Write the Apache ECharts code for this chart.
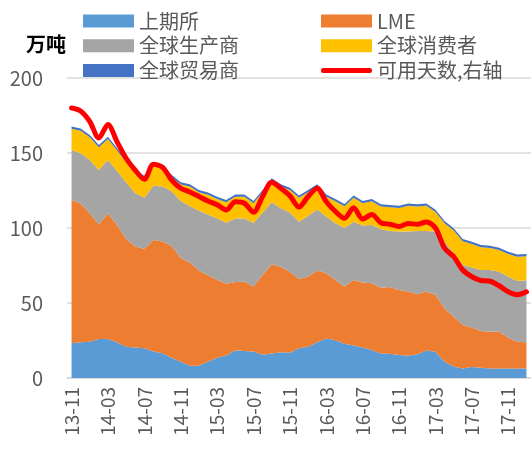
<!DOCTYPE html>
<html>
<head>
<meta charset="utf-8">
<script src="https://cdn.jsdelivr.net/npm/echarts@6/dist/echarts.min.js"></script>
<style>
  html, body { margin: 0; padding: 0; background: #fff; }
  #chart { width: 531px; height: 454px; }
</style>
</head>
<body>
<div id="chart"></div>
<script>
// 月份（13-11 至 18-01）
let months = ['13-11', '13-12', '14-01', '14-02', '14-03', '14-04', '14-05', '14-06', '14-07', '14-08',
    '14-09', '14-10', '14-11', '14-12', '15-01', '15-02', '15-03', '15-04', '15-05', '15-06',
    '15-07', '15-08', '15-09', '15-10', '15-11', '15-12', '16-01', '16-02', '16-03', '16-04',
    '16-05', '16-06', '16-07', '16-08', '16-09', '16-10', '16-11', '16-12', '17-01', '17-02',
    '17-03', '17-04', '17-05', '17-06', '17-07', '17-08', '17-09', '17-10', '17-11', '17-12', '18-01'];

// 各库存（万吨）
let shfe = [23.1, 23.8, 24.2, 26, 26, 23.8, 20.9, 20.4, 19.8, 17.6,
    16.5, 13.5, 10.9, 8.2, 8.2, 11, 13.5, 15, 18.5, 18,
    17.6, 15.5, 16.4, 17.1, 16.9, 19.8, 20.9, 23.8, 26.4, 25.1,
    22.8, 21.6, 20.4, 18.7, 16.4, 16.2, 15.3, 14.9, 15.8, 18.4,
    17.5, 10.9, 7.6, 6.4, 7.3, 6.9, 6.4, 6.4, 6.4, 6.4, 6.4];
let lme = [95.6, 92.6, 85.6, 76.4, 83.8, 78.2, 71.8, 67.2, 66.2, 74.4,
    74.5, 74.5, 69.1, 68.8, 63.3, 57.5, 52, 47.8, 45.5, 46.2,
    43.4, 53.2, 59.4, 57.1, 54, 46.2, 46.7, 47.8, 43.4, 40.2,
    38.2, 43.7, 43.2, 44.4, 43.8, 44.5, 43.4, 42.7, 40, 39.2,
    37.8, 35.5, 33.3, 28.9, 26.3, 24.4, 24.5, 24.5, 20.5, 17.8, 17.4];
let producer = [33.3, 33.4, 35.5, 36.3, 35.5, 36, 37.8, 35.5, 34.2, 36.2,
    36.6, 36.5, 38, 37.5, 40, 40.5, 41, 40.7, 42.4, 42.2,
    42.3, 41.7, 41.3, 38.9, 39.5, 38.2, 40.6, 40.8, 37.8, 37.8,
    39, 38.9, 38, 38.9, 38.9, 37.3, 38.9, 40, 42.2, 40.4,
    42.3, 44.5, 42.2, 40, 40, 40.7, 41.1, 40, 40.7, 40.5, 41.3];
let consumer = [14.1, 15.1, 15.2, 15.1, 14.1, 13.6, 13.3, 14.1, 13.2, 13.4,
    11.9, 9.5, 11, 13.1, 12.3, 13.1, 12.9, 13.7, 14.5, 14.5,
    13.2, 13.4, 14.5, 14.5, 15, 15.9, 15.6, 15.2, 13.3, 14.7,
    14.5, 15.9, 14.9, 15.8, 15.2, 15.8, 15.8, 17.3, 16.3, 16.9,
    13.1, 12.3, 15.2, 15.9, 15.8, 15.2, 14.7, 14.5, 15.1, 16.2, 16.1];
let trader = [1.5, 1.5, 1.5, 1.5, 1.5, 1.5, 1.5, 1.5, 1.5, 1.5,
    1.5, 1.5, 1.5, 1.5, 1.5, 1.5, 1.5, 1.5, 1.5, 1.5,
    1.5, 1.5, 1.5, 1.5, 1.5, 1.5, 1.5, 1.5, 1.5, 1.5,
    1.5, 1.5, 1.5, 1.5, 1.5, 1.5, 1.5, 1.5, 1.5, 1.5,
    1.5, 1.5, 1.5, 1.5, 1.5, 1.5, 1.5, 1.5, 1.5, 1.5, 1.5];
// 可用天数（右轴，天）
let days = [36.0, 35.6, 34.2, 32.0, 33.8, 31.5, 29.3, 27.7, 26.5, 28.5,
    28.1, 26.4, 25.3, 24.8, 24.2, 23.6, 23.1, 22.4, 23.5, 23.3,
    22.1, 24.2, 26.1, 25.3, 24.3, 22.8, 24.2, 25.3, 23.5, 22.2,
    21.3, 22.7, 21.2, 21.8, 20.7, 20.5, 20.2, 20.6, 20.5, 20.8,
    20.0, 17.3, 16.2, 14.4, 13.5, 13.0, 12.9, 12.3, 11.5, 11.1, 11.5];

let names = ['上期所', 'LME', '全球生产商', '全球消费者', '全球贸易商', '可用天数,右轴'];
let colors = ['#5B9BD5', '#ED7D31', '#A5A5A5', '#FFC000', '#4472C4', '#FF0000'];
let stackData = [shfe, lme, producer, consumer, trader];

let font = '"Noto Sans CJK SC", "Noto Sans", sans-serif';
let myChart = echarts.init(document.getElementById('chart'));

let series = [];
for (let i = 0; i < stackData.length; i++) {
    series.push({
        name: names[i],
        type: 'line',
        stack: 'total',
        data: stackData[i],
        symbol: 'none',
        color: colors[i],
        lineStyle: { width: 0 },
        areaStyle: { color: colors[i], opacity: 1 }
    });
}
series.push({
    name: names[5],
    type: 'line',
    yAxisIndex: 1,
    data: days,
    symbol: 'none',
    smooth: 0.3,
    color: colors[5],
    lineStyle: { width: 5, color: colors[5], cap: 'round', join: 'round' },
    z: 5
});

let legendText = { fontSize: 20, color: '#595959', fontFamily: font, lineHeight: 22 };
// 红线图例：圆头粗线
let lineIcon = 'path://M2.5,0 H48.5 A2.5,2.5 0 0 1 48.5,5 H2.5 A2.5,2.5 0 0 1 2.5,0 Z';

let option = {
    animation: false,
    backgroundColor: '#fff',
    title: {
        text: '万吨',
        left: 21,
        top: 29,
        textStyle: { fontSize: 20, fontWeight: 'bold', color: '#000', fontFamily: font }
    },
    legend: [{
        orient: 'vertical',
        left: 78,
        top: 5,
        itemWidth: 51,
        itemHeight: 13,
        itemGap: 2.7,
        icon: 'rect',
        textStyle: legendText,
        data: ['上期所', '全球生产商', '全球贸易商']
    }, {
        orient: 'vertical',
        left: 316,
        top: 5,
        itemWidth: 51,
        itemHeight: 13,
        itemGap: 2.7,
        textStyle: legendText,
        data: [{ name: 'LME', icon: 'rect' }, { name: '全球消费者', icon: 'rect' },
            { name: '可用天数,右轴', icon: lineIcon, itemStyle: { color: '#FF0000', borderWidth: 0 } }]
    }],
    grid: {
        left: 67,
        right: -3,
        top: 78,
        bottom: 76
    },
    xAxis: {
        type: 'category',
        data: months,
        boundaryGap: true,
        axisLine: { lineStyle: { color: '#D9D9D9', width: 1.5 } },
        axisTick: { interval: 3, length: 8, lineStyle: { color: '#D9D9D9', width: 1.5 } },
        axisLabel: {
            interval: 3,
            rotate: 90,
            margin: 9,
            fontSize: 19,
            color: '#595959',
            fontFamily: font
        }
    },
    yAxis: [{
        type: 'value',
        min: 0,
        max: 200,
        interval: 50,
        axisLine: { show: false },
        axisTick: { show: false },
        axisLabel: { fontSize: 20, color: '#595959', margin: 24, fontFamily: font },
        splitLine: { lineStyle: { color: '#D9D9D9', width: 1.5 } }
    }, {
        type: 'value',
        min: 0,
        max: 40,
        interval: 10,
        axisLine: { show: false },
        axisTick: { show: false },
        axisLabel: { show: false },
        splitLine: { show: false }
    }],
    series: series
};
myChart.setOption(option);
</script>
</body>
</html>
